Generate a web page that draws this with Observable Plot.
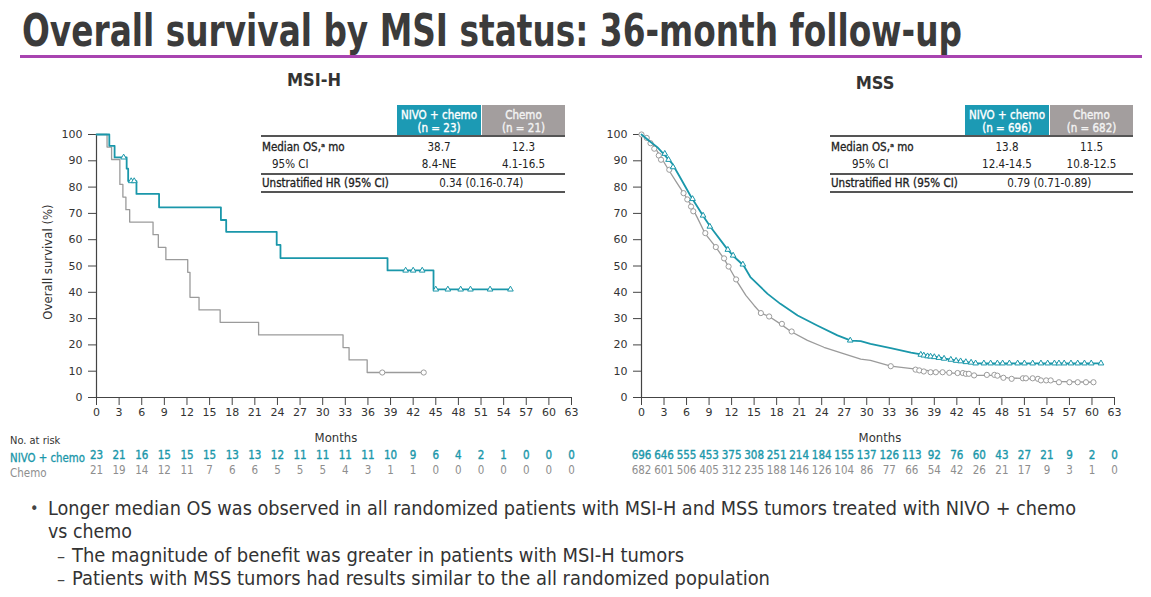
<!DOCTYPE html>
<html><head><meta charset="utf-8">
<script src="https://cdn.jsdelivr.net/npm/d3@7"></script>
<script src="https://cdn.jsdelivr.net/npm/@observablehq/plot@0.6"></script>
<style>
body{margin:0;background:#fff;}
#page{position:relative;width:1151px;height:597px;overflow:hidden;font-family:"DejaVu Sans Condensed","DejaVu Sans",sans-serif;color:#333;background:#fff;}
.t{position:absolute;white-space:nowrap;}
.plot{position:absolute;}
</style></head>
<body><div id="page"></div>
<script>
// ---------- data ----------
const monthTicks = [0,3,6,9,12,15,18,21,24,27,30,33,36,39,42,45,48,51,54,57,60,63];
const survTicks = [0,10,20,30,40,50,60,70,80,90,100];

// MSI-H Kaplan-Meier steps [month, OS %]
const msihNivo = [[0,100],[1.7,95.7],[2.4,91.3],[4.0,87.0],[4.2,82.3],[5.3,77.4],[8.3,72.3],[16.5,67.5],[17.2,63.0],[23.9,58.0],[24.4,53.0],[38.6,48.3],[44.7,41.1],[54.9,41.1]];
const msihChemo = [[0,100],[1.4,95.2],[2.0,90.5],[3.1,81.0],[3.5,76.2],[3.9,71.4],[4.4,66.7],[7.5,61.9],[8.2,57.1],[9.2,52.4],[12.1,47.6],[12.4,38.1],[13.6,33.3],[16.4,28.6],[21.5,23.8],[32.7,19.0],[33.5,14.3],[35.9,9.5],[43.4,9.5]];
const msihNivoCensor = [[3.6,91.3],[4.6,82.3],[5.0,82.3],[41.0,48.3],[42.0,48.3],[43.2,48.3],[45.0,41.1],[46.6,41.1],[48.3,41.1],[49.6,41.1],[52.2,41.1],[54.9,41.1]];
const msihChemoCensor = [[37.9,9.5],[43.4,9.5]];

// MSS curves [month, OS %]
const mssNivo = [[0,100],[1.0,97.6],[2.1,95.2],[2.9,92.7],[4.1,88.9],[5.0,84.4],[6.5,76.8],[8.3,68.6],[9.2,64.8],[11.4,56.5],[12.3,53.6],[13.6,50.2],[14.5,45.8],[16.8,39.4],[18.5,35.6],[20.8,31.2],[23.4,27.4],[26.1,23.6],[27.9,21.6],[29.2,21.4],[30.5,20.4],[33.2,18.8],[35.9,17.1],[37.4,16.3],[39.4,15.3],[41.2,14.4],[43.4,13.4],[44.8,13.0],[61.3,13.0]];
const mssChemo = [[0,100],[0.8,98.4],[1.6,95.8],[2.3,92.7],[2.8,90.4],[3.6,86.6],[4.8,81.2],[5.6,77.7],[6.5,73.6],[7.4,68.6],[8.5,62.2],[9.9,57.2],[11.0,52.7],[11.9,48.3],[12.8,43.8],[13.9,38.8],[15.0,35.0],[15.9,32.1],[17.0,30.8],[18.5,28.0],[19.9,25.1],[22.1,21.7],[24.3,19.1],[27.0,16.6],[29.2,14.6],[30.5,14.1],[33.2,11.9],[36.3,10.9],[39.0,9.9],[41.2,9.4],[44.3,8.4],[47.0,8.4],[48.8,7.5],[51.9,7.1],[54.5,6.1],[60.3,5.8]];
const mssNivoCensor = [[3.1,92.7],[3.6,90.4],[4.2,87.6],[6.8,75.5],[8.2,69.2],[9.1,65.0],[11.5,56.2],[12.2,54.0],[13.5,50.6],[27.8,21.7],[37.2,16.3],[37.6,16.0],[38.1,15.7],[38.5,15.6],[39.0,15.4],[39.6,15.1],[40.3,14.8],[41.2,14.4],[41.9,14.0],[42.5,13.8],[43.2,13.5],[43.9,13.3],[44.5,13.0],[45.6,13.0],[46.5,13.0],[47.4,13.0],[48.1,13.0],[49.0,13.0],[50.1,13.0],[51.0,13.0],[52.1,13.0],[53.2,13.0],[54.1,13.0],[55.0,13.0],[55.6,13.0],[56.3,13.0],[57.2,13.0],[58.1,13.0],[59.0,13.0],[59.9,13.0],[61.2,13.0]];
const mssChemoCensor = [[0,100],[0.7,98.7],[1.2,96.7],[1.7,94.6],[2.3,92.0],[2.6,90.4],[3.7,86.6],[5.6,77.7],[6.1,75.3],[6.6,72.6],[6.9,70.8],[8.5,62.5],[9.9,57.2],[11.0,52.9],[11.6,49.8],[12.6,44.9],[15.9,32.1],[17.0,30.8],[18.7,28.0],[20.0,25.1],[33.2,11.9],[36.5,10.6],[37.0,10.3],[37.6,9.9],[38.5,9.6],[39.2,9.6],[40.1,9.6],[41.0,9.4],[42.1,9.3],[42.8,9.3],[43.2,9.0],[43.6,9.0],[44.3,8.4],[46.0,8.6],[47.0,8.6],[47.4,8.3],[48.2,7.5],[49.3,7.1],[50.8,7.3],[51.2,7.3],[52.1,7.3],[52.8,7.1],[53.2,6.5],[53.9,6.5],[54.5,6.5],[55.6,5.8],[57.0,5.8],[58.1,5.8],[59.2,5.8],[60.2,5.8]];

// numbers at risk (at each month tick)
const msihNivoRisk = [23,21,16,15,15,15,13,13,12,11,11,11,11,10,9,6,4,2,1,0,0,0];
const msihChemoRisk = [21,19,14,12,11,7,6,6,5,5,5,4,3,1,1,0,0,0,0,0,0,0];
const mssNivoRisk = [696,646,555,453,375,308,251,214,184,155,137,126,113,92,76,60,43,27,21,9,2,0];
const mssChemoRisk = [682,601,506,405,312,235,188,146,126,104,86,77,66,54,42,26,21,17,9,3,1,0];

// summary tables
const tableRowLabels = ["Median OS,\u1d43 mo","95% CI","Unstratified HR (95% CI)"];
const msihHeaders = [["NIVO + chemo","(n = 23)"],["Chemo","(n = 21)"]];
const msihMedian = ["38.7","12.3"];
const msihCI = ["8.4-NE","4.1-16.5"];
const msihHR = "0.34 (0.16-0.74)";
const mssHeaders = [["NIVO + chemo","(n = 696)"],["Chemo","(n = 682)"]];
const mssMedian = ["13.8","11.5"];
const mssCI = ["12.4-14.5","10.8-12.5"];
const mssHR = "0.79 (0.71-0.89)";

const titleText = "Overall survival by MSI status: 36-month follow-up";
const bullets = [
  {kind:"bullet", text:"Longer median OS was observed in all randomized patients with MSI-H and MSS tumors treated with NIVO + chemo"},
  {kind:"cont", text:"vs chemo"},
  {kind:"dash", text:"The magnitude of benefit was greater in patients with MSI-H tumors"},
  {kind:"dash", text:"Patients with MSS tumors had results similar to the all randomized population"}
];

// ---------- styles ----------
const TEAL = "#1a97aa", TEALBOX = "#1c9ab4", GRAY = "#9b9b9b", GRAYBOX = "#a39e9e", INK = "#333";
const page = document.getElementById("page");

function txt(x, y, s, o = {}) {
  const d = document.createElement("div");
  d.className = "t";
  d.textContent = s;
  const size = o.size || 11;
  const lh = Math.round(size * 1.3);
  d.style.fontSize = size + "px";
  d.style.lineHeight = lh + "px";
  d.style.top = (y - lh / 2) + "px";
  d.style.left = x + "px";
  if (o.weight) d.style.fontWeight = o.weight;
  if (o.color) d.style.color = o.color;
  if (o.family) d.style.fontFamily = o.family;
  if (o.stroke) d.style.webkitTextStroke = o.stroke;
  page.appendChild(d);
  const anchor = o.anchor || "start";
  let sx = 1;
  if (o.fit) { sx = o.fit / d.getBoundingClientRect().width; }
  const tx = anchor === "middle" ? "-50%" : anchor === "end" ? "-100%" : "0";
  d.style.transformOrigin = anchor === "middle" ? "center center" : anchor === "end" ? "right center" : "left center";
  d.style.transform = `translateX(${tx}) scaleX(${sx})`;
  return d;
}
function box(x, y, w, h, bg) {
  const d = document.createElement("div");
  d.style.cssText = `position:absolute;left:${x}px;top:${y}px;width:${w}px;height:${h}px;background:${bg};`;
  page.appendChild(d);
  return d;
}

// ---------- title ----------
txt(22, 30, titleText, {size: 44, weight: "bold", color: "#3b3b3b", fit: 940});
box(20, 55, 1122, 3, "#a844b0");

// ---------- charts ----------
function kmPlot({left, nivo, chemo, nivoC, chemoC, nivoR, chemoR, mLeft, width, mRight, curve}) {
  const riskFont = "DejaVu Sans Condensed, DejaVu Sans";
  const p = Plot.plot({
    width, height: 365,
    marginLeft: mLeft, marginRight: mRight, marginTop: 14, marginBottom: 88,
    x: {domain: [0, 63]},
    y: {domain: [0, 100]},
    style: {fontFamily: "DejaVu Sans, sans-serif", fontSize: "11px", color: INK, background: "transparent", overflow: "visible"},
    marks: [
      Plot.axisX({ticks: monthTicks, tickSize: 8, tickPadding: 3, label: null, stroke: "#444", fontSize: 11}),
      Plot.axisY({ticks: survTicks, tickSize: 8, tickPadding: 6, label: null, stroke: "#444", fontSize: 11}),
      Plot.ruleX([0], {stroke: "#444", strokeWidth: 1.2}),
      Plot.ruleY([0], {stroke: "#444", strokeWidth: 1.2}),
      Plot.line(chemo, {x: d => d[0], y: d => d[1], curve, stroke: GRAY, strokeWidth: 1.3}),
      Plot.dot(chemoC, {x: d => d[0], y: d => d[1], r: 2.6, stroke: GRAY, fill: "white", strokeWidth: 1}),
      Plot.line(nivo, {x: d => d[0], y: d => d[1], curve, stroke: TEAL, strokeWidth: 1.8}),
      Plot.dot(nivoC, {x: d => d[0], y: d => d[1], r: 2.1, symbol: "triangle", stroke: TEAL, fill: "white", strokeWidth: 1}),
      Plot.text(monthTicks, {x: d => d, text: (d, i) => String(nivoR[i]), frameAnchor: "bottom", dy: 61, fill: TEAL, stroke: TEAL, strokeWidth: 0.35, fontSize: 11.5, fontFamily: riskFont}),
      Plot.text(monthTicks, {x: d => d, text: (d, i) => String(chemoR[i]), frameAnchor: "bottom", dy: 76, fill: "#8e8e8e", fontSize: 11.5, fontFamily: riskFont})
    ]
  });
  p.classList.add("plot");
  p.style.left = left + "px";
  p.style.top = "120px";
  page.appendChild(p);
}

kmPlot({left: 0, width: 590, mLeft: 96, mRight: 19, curve: "step-after", nivo: msihNivo, chemo: msihChemo, nivoC: msihNivoCensor, chemoC: msihChemoCensor, nivoR: msihNivoRisk, chemoR: msihChemoRisk});
kmPlot({left: 590, width: 561, mLeft: 51, mRight: 37, curve: "linear", nivo: mssNivo, chemo: mssChemo, nivoC: mssNivoCensor, chemoC: mssChemoCensor, nivoR: mssNivoRisk, chemoR: mssChemoRisk});

// axis titles & panel titles
txt(314, 79, "MSI-H", {size: 18, weight: "bold", color: "#333", anchor: "middle"});
txt(875, 82, "MSS", {size: 18, weight: "bold", color: "#333", anchor: "middle"});
txt(336, 437, "Months", {size: 13, color: "#333", anchor: "middle"});
txt(880, 437, "Months", {size: 13, color: "#333", anchor: "middle"});
const yl = txt(0, 0, "Overall survival (%)", {size: 13, color: "#333"});
yl.style.left = "47px"; yl.style.top = "262px";
yl.style.transformOrigin = "0 0";
yl.style.transform = "rotate(-90deg) translate(-50%, -50%)";

txt(10, 441, "No. at risk", {size: 11, color: "#333"});
txt(10, 458, "NIVO + chemo", {size: 11.5, color: TEAL, fit: 75, stroke: "0.3px " + TEAL});
txt(10, 473, "Chemo", {size: 11.5, color: "#8e8e8e"});

// ---------- summary tables ----------
function table(lineL, mid, right, ciIndent, headers, median, ci, hr) {
  const boxL = mid - (right - mid);
  box(boxL, 105, mid - boxL, 31, TEALBOX);
  box(mid + 1, 105, right - mid - 1, 31, GRAYBOX);
  const c1 = (boxL + mid) / 2, c2 = (mid + 1 + right) / 2;
  const hs = {size: 11.5, color: "#fff", anchor: "middle", stroke: "0.35px #fff"};
  txt(c1, 115, headers[0][0], hs);
  txt(c1, 128, headers[0][1], hs);
  txt(c2, 115, headers[1][0], {...hs, color: "#f3f3f3", stroke: "0.35px #f3f3f3"});
  txt(c2, 128, headers[1][1], {...hs, color: "#f3f3f3", stroke: "0.35px #f3f3f3"});
  for (const yy of [136, 174, 192]) box(lineL, yy - 0.75, right - lineL, 1.5, "#555");
  const rs = {size: 11.5, color: "#222"};
  const rb = {...rs, stroke: "0.3px #222"};
  txt(lineL + 1, 147, tableRowLabels[0], rb);
  txt(lineL + ciIndent, 164, tableRowLabels[1], rs);
  txt(lineL + 1, 183, tableRowLabels[2], rb);
  txt(c1, 147, median[0], {...rs, anchor: "middle"});
  txt(c2, 147, median[1], {...rs, anchor: "middle"});
  txt(c1, 164, ci[0], {...rs, anchor: "middle"});
  txt(c2, 164, ci[1], {...rs, anchor: "middle"});
  txt((c1 + c2) / 2, 183, hr, {...rs, anchor: "middle"});
}
table(261, 481, 565, 11, msihHeaders, msihMedian, msihCI, msihHR);
table(830, 1049, 1133, 22, mssHeaders, mssMedian, mssCI, mssHR);

// ---------- bullets ----------
const bulletY = [508, 531, 555, 578];
const bulletW = [1028, 84, 612, 698];
bullets.forEach((b, i) => {
  const y = bulletY[i];
  if (b.kind === "bullet") txt(30, y, "\u2022", {size: 16, color: "#444"});
  if (b.kind === "dash") txt(57, y, "\u2013", {size: 18, color: "#444"});
  const x = b.kind === "dash" ? 72 : 48;
  txt(x, y, b.text, {size: 20, color: "#333", fit: bulletW[i]});
});
</script>
</body></html>
